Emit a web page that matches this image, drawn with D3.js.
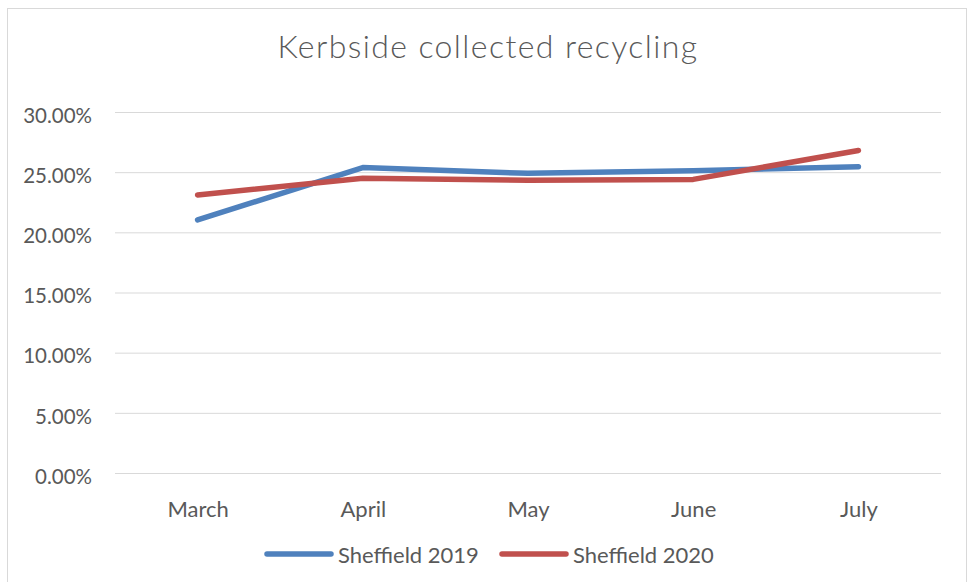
<!DOCTYPE html>
<meta charset="utf-8">
<html>
<script src="https://d3js.org/d3.v7.min.js"></script>
<style>
    body { margin: 0; background: #fff; }
    text { font-family: Lato, "Open Sans", sans-serif; fill: #595959; }
</style>
<body>
<div id="chart"></div>
<script>
    // data
    var months = ["March", "April", "May", "June", "July"];
    var sheffield2019 = [0.2103, 0.2538, 0.2490, 0.2512, 0.2546];
    var sheffield2020 = [0.2310, 0.2450, 0.2432, 0.2440, 0.2680];
    var yTicks = [0, 0.05, 0.10, 0.15, 0.20, 0.25, 0.30];
    var seriesNames = ["Sheffield 2019", "Sheffield 2020"];
    var seriesColors = ["#4F81BD", "#C0504D"];

    var W = 968, H = 582;
    var margin = { top: 112, right: 27, bottom: 109, left: 115 },
        width = W - margin.left - margin.right,
        height = H - margin.top - margin.bottom;

    var svg = d3.select("#chart").append("svg")
        .attr("width", W)
        .attr("height", H);

    // outer chart border
    svg.append("rect")
        .attr("x", 7.5).attr("y", 8.5)
        .attr("width", 959).attr("height", 590)
        .attr("fill", "none")
        .attr("stroke", "#d9d9d9");

    svg.append("text")
        .attr("x", 488).attr("y", 58)
        .attr("text-anchor", "middle")
        .style("font-size", "32px")
        .style("font-weight", 300)
        .style("letter-spacing", "1.4px")
        .text("Kerbside collected recycling");

    var g = svg.append("g")
        .attr("transform", "translate(" + margin.left + "," + margin.top + ")");

    var x = d3.scalePoint()
        .domain(months)
        .range([0, width])
        .padding(0.5);

    var y = d3.scaleLinear()
        .domain([0, 0.30])
        .range([height, 0]);

    // gridlines
    g.append("g")
        .call(d3.axisLeft(y).tickValues(yTicks).tickSize(-width).tickFormat(""))
        .call(function (a) {
            a.select(".domain").remove();
            a.selectAll("line").attr("stroke", "#d9d9d9");
        });

    // y labels
    g.append("g")
        .call(d3.axisLeft(y).tickValues(yTicks).tickSize(0).tickPadding(23).tickFormat(d3.format(".2%")))
        .call(function (a) {
            a.select(".domain").remove();
            a.selectAll("text").style("font-size", "20.5px").attr("fill", "#595959").attr("dy", "0.5em");
        });

    // x labels
    g.append("g")
        .attr("transform", "translate(0," + height + ")")
        .call(d3.axisBottom(x).tickSize(0).tickPadding(28))
        .call(function (a) {
            a.select(".domain").remove();
            a.selectAll("text").style("font-size", "22px").attr("fill", "#595959");
        });

    var line = d3.line()
        .x(function (d, i) { return x(months[i]); })
        .y(function (d) { return y(d); });

    [sheffield2019, sheffield2020].forEach(function (s, k) {
        g.append("path")
            .datum(s)
            .attr("fill", "none")
            .attr("stroke", seriesColors[k])
            .attr("stroke-width", 5.5)
            .attr("stroke-linecap", "round")
            .attr("stroke-linejoin", "round")
            .attr("d", line);
    });

    // legend
    var legend = svg.append("g").attr("transform", "translate(0,554)");
    var legX = [267, 502];
    seriesNames.forEach(function (n, k) {
        legend.append("line")
            .attr("x1", legX[k]).attr("x2", legX[k] + 64)
            .attr("y1", 0).attr("y2", 0)
            .attr("stroke", seriesColors[k])
            .attr("stroke-width", 5.5)
            .attr("stroke-linecap", "round");
        legend.append("text")
            .attr("x", legX[k] + 71).attr("y", 8.5)
            .style("font-size", "22px")
            .text(n);
    });
</script>
</body>
</html>
